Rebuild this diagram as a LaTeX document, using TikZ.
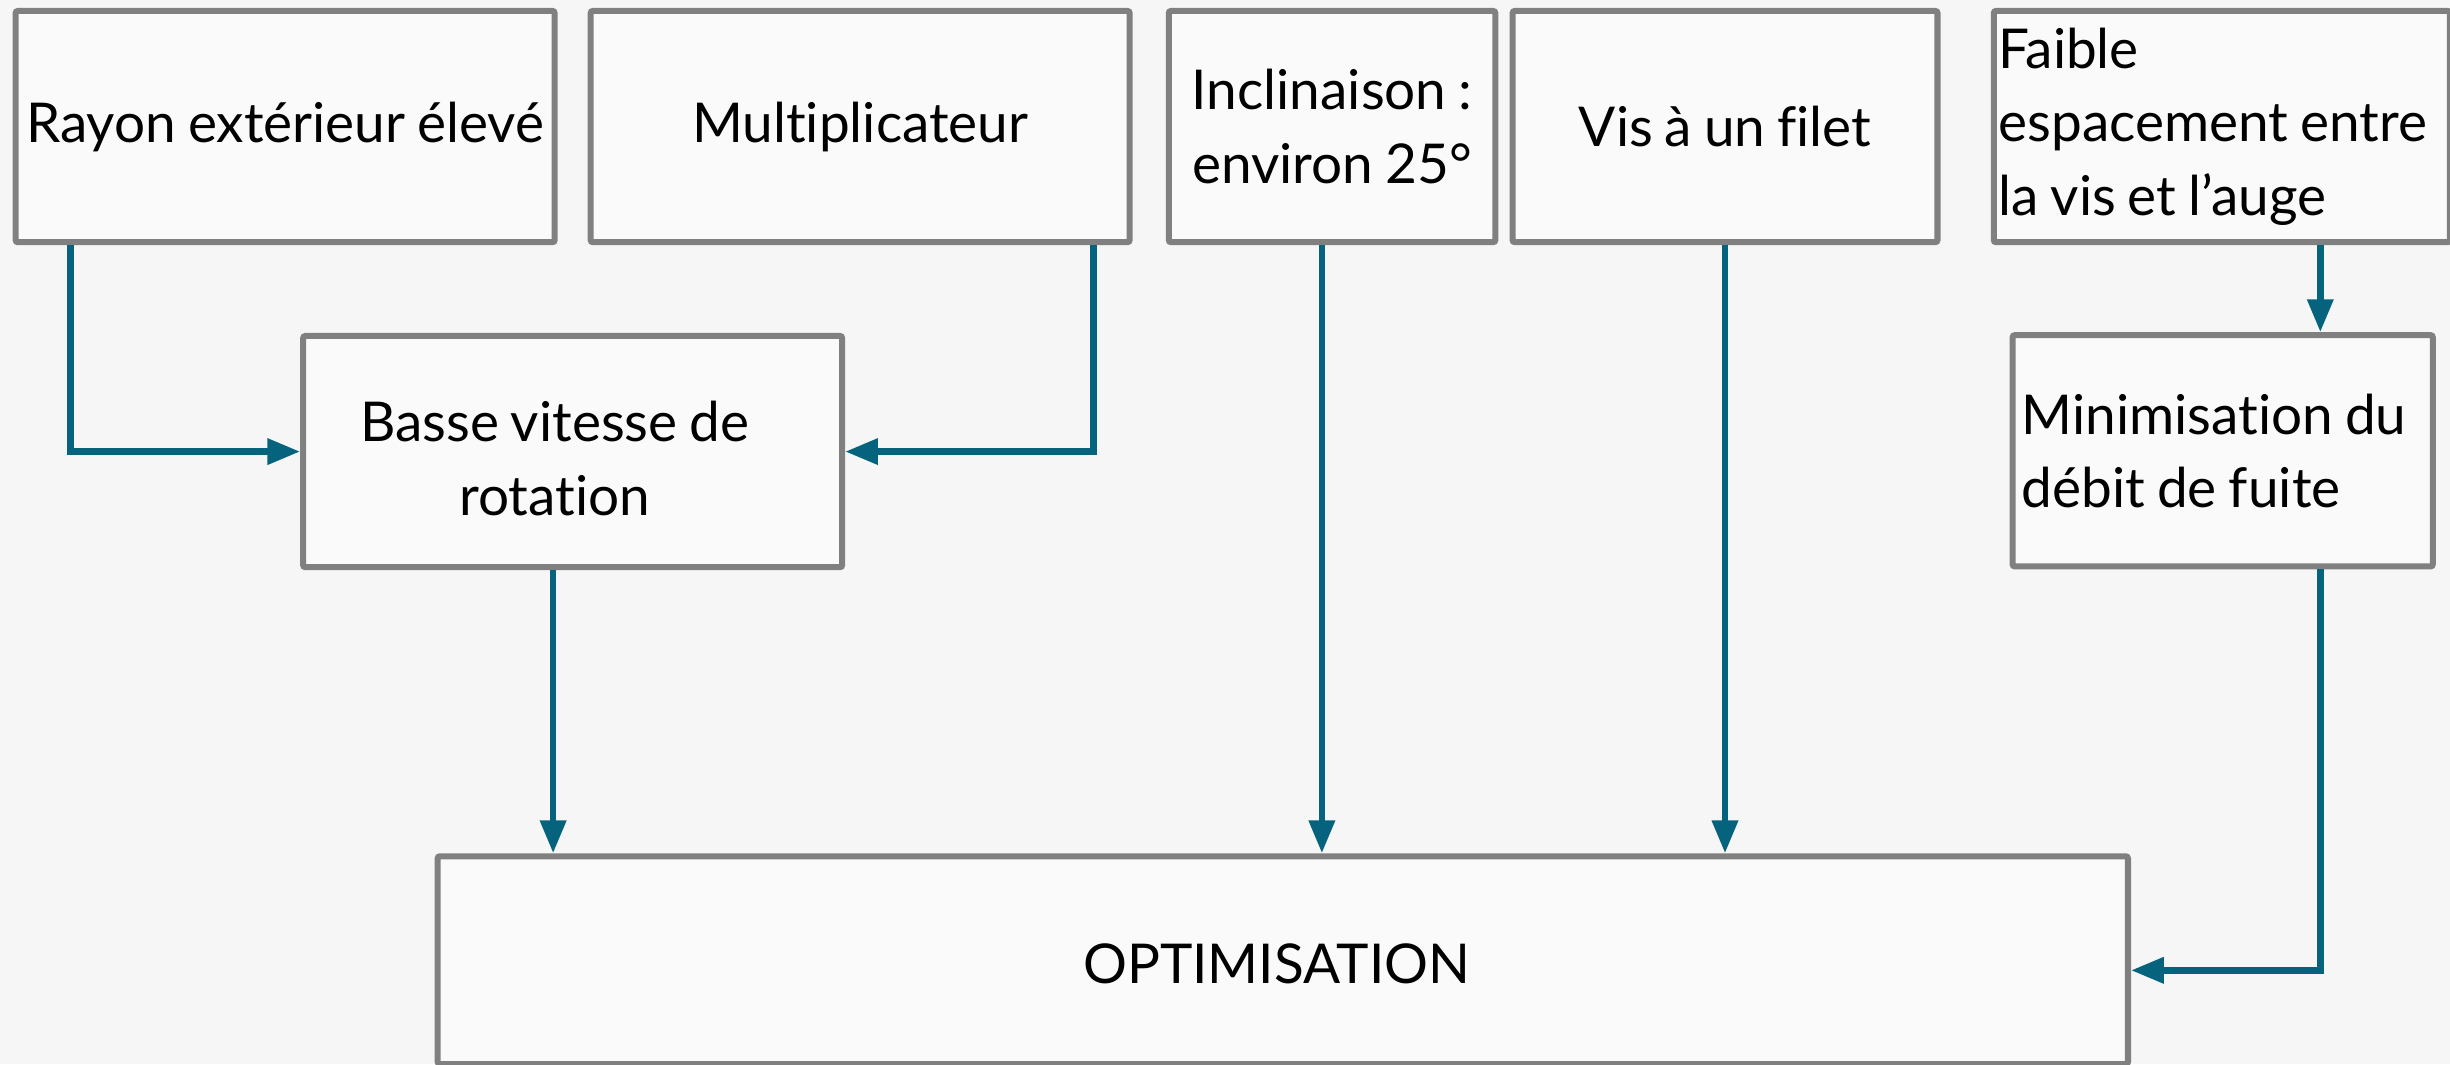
\documentclass[tikz,border=0pt]{standalone}
\usepackage{fontspec}
\setmainfont{Lato}[Ligatures=NoCommon, WordSpace=0.85]
\usetikzlibrary{arrows.meta}
\definecolor{bgc}{HTML}{F6F6F6}
\definecolor{boxfill}{HTML}{FAFAFA}
\definecolor{boxline}{HTML}{808080}
\definecolor{arrowc}{RGB}{6,99,125}
\begin{document}
\begin{tikzpicture}[x=0.02cm,y=-0.02cm,
  box/.style={draw=boxline, fill=boxfill, line width=2.2pt, rounded corners=0.8pt,
    inner sep=0pt, minimum height=2.96cm, align=center,
    font=\fontsize{20}{26.7}\selectfont},
  txt/.style={inner sep=0pt, align=center, font=\fontsize{20}{26.7}\selectfont},
  arr/.style={draw=arrowc, line width=2.4pt, -{Triangle[length=0.42cm,width=0.32cm]}}
]
\fill[bgc] (0,0) rectangle (1568,681);
\useasboundingbox (0,0) rectangle (1568,681);

\node[box, minimum width=6.9cm] (rayon) at (182.5,81) {Rayon extérieur élevé};
\node[box, minimum width=6.9cm] (mult) at (550.5,81) {Multiplicateur};
\node[box, minimum width=4.18cm] (incl) at (852.5,81) {Inclinaison~:\\environ 25°};
\node[box, minimum width=5.44cm] (vis) at (1104,81) {Vis à un filet};
\node[box, minimum width=5.84cm, text width=5.72cm, inner xsep=0.06cm, align=flush left] (faible) at (1422,81)
  {Faible\\espacement entre\\la vis et l’auge};
\node[box, minimum width=6.9cm] (basse) at (366.5,289) {};
\node[txt] (basset) at (355,293.5) {Basse vitesse de\\rotation};
\node[box, minimum width=5.38cm, text width=5.14cm, inner xsep=0.12cm, align=flush left] (mini) at (1422.5,288.5)
  {Minimisation du\\débit de fuite};
\node[box, minimum width=21.64cm, minimum height=2.66cm] (optim) at (821,614.5) {};
\node[txt] (optimt) at (817,617) {OPTIMISATION};

\draw[arr] ([xshift=0.74cm]rayon.south west) |- (basse.west);
\draw[arr] ([xshift=-0.5cm]mult.south east) |- (basse.east);
\draw[arr] ([xshift=-0.25cm]basse.south) -- ([xshift=-0.25cm]basse.south |- optim.north);
\draw[arr] ([xshift=-0.13cm]incl.south) -- ([xshift=-0.13cm]incl.south |- optim.north);
\draw[arr] (vis.south) -- (vis.south |- optim.north);
\draw[arr] ([xshift=1.26cm]faible.south) -- ([xshift=1.26cm]faible.south |- mini.north);
\draw[arr] ([xshift=1.25cm]mini.south) |- ([yshift=-0.13cm]optim.east);
\end{tikzpicture}
\end{document}
